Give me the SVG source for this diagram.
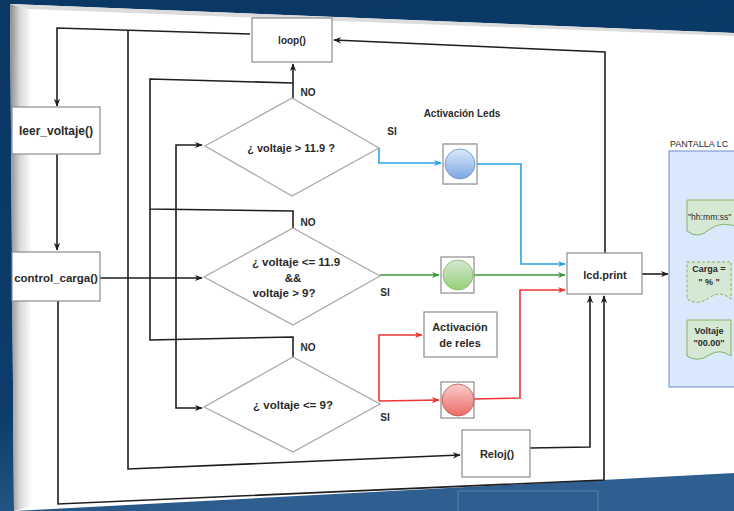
<svg xmlns="http://www.w3.org/2000/svg" width="734" height="511" viewBox="0 0 734 511">
<defs>
<linearGradient id="bg" x1="0" y1="0" x2="0.3" y2="1">
<stop offset="0" stop-color="#0a3764"/>
<stop offset="0.75" stop-color="#0d3d6c"/>
<stop offset="1" stop-color="#2f5f90"/>
</linearGradient>
<linearGradient id="bevel" x1="0" y1="0" x2="1" y2="0">
<stop offset="0" stop-color="#8a8a8a"/>
<stop offset="0.45" stop-color="#d8d8d8"/>
<stop offset="1" stop-color="#ffffff"/>
</linearGradient>
<linearGradient id="gBlue" x1="0" y1="0" x2="0" y2="1">
<stop offset="0" stop-color="#dae8fc"/>
<stop offset="1" stop-color="#7ea6e0"/>
</linearGradient>
<linearGradient id="gGreen" x1="0" y1="0" x2="0" y2="1">
<stop offset="0" stop-color="#d5e8d4"/>
<stop offset="1" stop-color="#97d077"/>
</linearGradient>
<linearGradient id="gRed" x1="0" y1="0" x2="0" y2="1">
<stop offset="0" stop-color="#f8cecc"/>
<stop offset="1" stop-color="#ea6b66"/>
</linearGradient>
<marker id="aK" viewBox="0 0 10 10" refX="9" refY="5" markerWidth="8" markerHeight="8" orient="auto" markerUnits="userSpaceOnUse"><path d="M0,1 L10,5 L0,9 L3,5 Z" fill="#1e1e1e"/></marker>
<marker id="aB" viewBox="0 0 10 10" refX="9" refY="5" markerWidth="8" markerHeight="8" orient="auto" markerUnits="userSpaceOnUse"><path d="M0,1 L10,5 L0,9 L3,5 Z" fill="#2aa1e4"/></marker>
<marker id="aG" viewBox="0 0 10 10" refX="9" refY="5" markerWidth="8" markerHeight="8" orient="auto" markerUnits="userSpaceOnUse"><path d="M0,1 L10,5 L0,9 L3,5 Z" fill="#3a9a3a"/></marker>
<marker id="aR" viewBox="0 0 10 10" refX="9" refY="5" markerWidth="8" markerHeight="8" orient="auto" markerUnits="userSpaceOnUse"><path d="M0,1 L10,5 L0,9 L3,5 Z" fill="#f03434"/></marker>
<style>
text{font-family:"Liberation Sans",Arial,sans-serif;font-weight:bold;fill:#2a2a2a;text-anchor:middle}
.box{fill:#ffffff;stroke:#8c8c8c;stroke-width:1.2}
.dia{fill:#ffffff;stroke:#a6a6a6;stroke-width:1.2}
.ln{fill:none;stroke:#1e1e1e;stroke-width:1.6}
.lk{marker-end:url(#aK)}
.lb{fill:none;stroke:#2aa1e4;stroke-width:1.6}
.lg{fill:none;stroke:#3a9a3a;stroke-width:1.6}
.lr{fill:none;stroke:#f03434;stroke-width:1.6}
.led{fill:#ffffff;stroke:#8c8c8c;stroke-width:1.2}
.doc{fill:#d5e8d4;stroke:#82b366;stroke-width:1}
.lbl{font-size:10px}
</style>
</defs>
<rect width="734" height="511" fill="url(#bg)"/>
<rect x="458" y="491" width="140" height="30" fill="none" stroke="#5b82aa" stroke-width="1"/>
<!-- sheet -->
<polygon points="10,4 734,33 734,473 14,511" fill="#ffffff"/>
<polygon points="10,4 30,9 32,506 14,511" fill="url(#bevel)"/>
<polygon points="10,4 734,33 734,36 28,9" fill="#dcdcdc"/>

<g id="connectors">
<path class="ln lk" d="M250,34 L57,28 L57,106"/>
<path class="ln lk" d="M57,154 L57,250"/>
<path class="ln lk" d="M128,31 L128,469 L460,455"/>
<path class="ln lk" d="M293,98 L293,64"/>
<path class="ln" d="M293,228 L293,211 L150,209 L150,79 L293,83"/>
<path class="ln" d="M293,357 L293,337 L150,340 L150,209"/>
<path class="ln lk" d="M100,278 L202,278"/>
<path class="ln lk" d="M176,278 L176,145 L202,145"/>
<path class="ln lk" d="M176,278 L176,408 L202,408"/>
<path class="ln lk" d="M58,301 L58,504 L604,480 L604,296"/>
<path class="ln lk" d="M530,448 L590,447 L590,296"/>
<path class="ln lk" d="M605,253 L605,52 L334,40"/>
<path class="ln lk" d="M642,274 L668,274"/>
<path class="lb" marker-end="url(#aB)" d="M379,148 L379,163 L441,163"/>
<path class="lb" marker-end="url(#aB)" d="M477,164 L521,164 L521,264 L565,264"/>
<path class="lg" marker-end="url(#aG)" d="M380,275 L439,275"/>
<path class="lg" marker-end="url(#aG)" d="M474,275 L565,275"/>
<path class="lr" marker-end="url(#aR)" d="M379,401 L379,335 L422,335"/>
<path class="lr" marker-end="url(#aR)" d="M379,401 L439,400"/>
<path class="lr" marker-end="url(#aR)" d="M474,399 L520,398 L520,290 L565,290"/>
</g>

<g id="loop">
<rect class="box" x="252" y="18" width="80" height="44"/>
<text x="292" y="44" font-size="10">loop()</text>
</g>
<g id="leer_voltaje">
<rect class="box" x="12" y="107" width="88" height="47"/>
<text x="56" y="135" font-size="12">leer_voltaje()</text>
</g>
<g id="control_carga">
<rect class="box" x="12" y="252" width="88" height="49"/>
<text x="56" y="282" font-size="11.5">control_carga()</text>
</g>
<g id="dec1">
<polygon class="dia" points="292,98 379,148 292,196 205,146"/>
<text x="291" y="152" font-size="11">¿ voltaje &gt; 11.9 ?</text>
</g>
<g id="dec2">
<polygon class="dia" points="293,228 380,276 293,325 204,277"/>
<text x="296" y="266" font-size="11.5">¿ voltaje &lt;= 11.9</text>
<text x="293" y="282" font-size="11.5">&amp;&amp;</text>
<text x="284" y="297" font-size="11.5">voltaje &gt; 9?</text>
</g>
<g id="dec3">
<polygon class="dia" points="293,357 380,404 293,452 204,407"/>
<text x="293" y="409" font-size="11.5">¿ voltaje &lt;= 9?</text>
</g>
<g id="labels">
<text class="lbl" x="308" y="96">NO</text>
<text class="lbl" x="308" y="226">NO</text>
<text class="lbl" x="308" y="351">NO</text>
<text class="lbl" x="392" y="135">SI</text>
<text class="lbl" x="385" y="296">SI</text>
<text class="lbl" x="385" y="421">SI</text>
<text class="lbl" x="462" y="117">Activación Leds</text>
</g>
<g id="led_blue">
<rect class="led" x="443" y="144" width="34" height="40"/>
<circle cx="460" cy="164" r="15" fill="url(#gBlue)" stroke="#6c8ebf" stroke-width="0.8"/>
</g>
<g id="led_green">
<rect class="led" x="441" y="257" width="33" height="36"/>
<circle cx="458" cy="275" r="15" fill="url(#gGreen)" stroke="#82b366" stroke-width="0.8"/>
</g>
<g id="led_red">
<rect class="led" x="441" y="382" width="33" height="36"/>
<circle cx="458" cy="400" r="16" fill="url(#gRed)" stroke="#b85450" stroke-width="0.8"/>
</g>
<g id="reles">
<rect class="box" x="424" y="312" width="73" height="45"/>
<text x="460" y="331" font-size="11">Activación</text>
<text x="460" y="347" font-size="11">de reles</text>
</g>
<g id="lcd_print">
<rect class="box" x="567" y="253" width="75" height="41"/>
<text x="605" y="279" font-size="11">lcd.print</text>
</g>
<g id="reloj">
<rect class="box" x="462" y="430" width="68" height="47"/>
<text x="497" y="458" font-size="11">Reloj()</text>
</g>
<g id="pantalla">
<text x="670" y="147" font-size="9" style="text-anchor:start;font-weight:normal">PANTALLA LC</text>
<rect x="669" y="151" width="80" height="236" fill="#dae8fc" stroke="#6c8ebf" stroke-width="1"/>
<path class="doc" d="M687,200 H740 V228 Q722,220 710,229 Q698,240 687,231 Z"/>
<text x="688" y="220" font-size="8.6" style="text-anchor:start;font-weight:normal">"hh:mm:ss"</text>
<path class="doc" stroke-dasharray="3,2" d="M687,262 H731 V299 Q720,290 709,298 Q698,306 687,299 Z"/>
<text x="709" y="272" font-size="9">Carga =</text>
<text x="709" y="285" font-size="9">" % "</text>
<path class="doc" d="M687,320 H731 V356 Q720,348 709,355 Q698,363 687,356 Z"/>
<text x="709" y="334" font-size="9">Voltaje</text>
<text x="709" y="346" font-size="9">"00.00"</text>
</g>
</svg>
